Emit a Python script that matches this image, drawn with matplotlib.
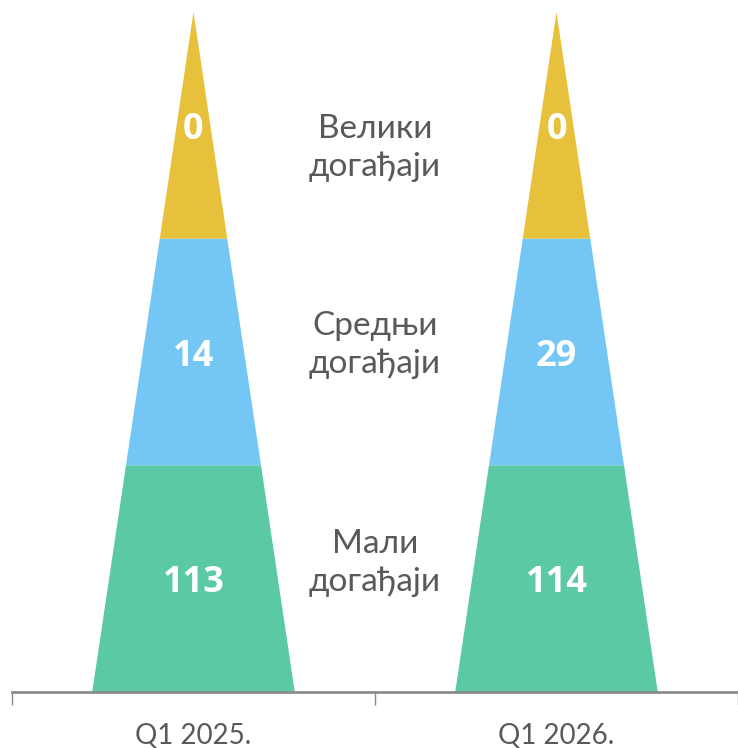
import matplotlib
matplotlib.use('Agg')
import matplotlib.pyplot as plt
from matplotlib.patches import Polygon

periods = ["Q1 2025.", "Q1 2026."]
levels = ["Мали\nдогађаји", "Средњи\nдогађаји", "Велики\nдогађаји"]  # bottom to top
counts = {
    "Q1 2025.": [113, 14, 0],
    "Q1 2026.": [114, 29, 0],
}
colors = ["#5BC9A4", "#74C7F5", "#E8C13C"]

fig = plt.figure(figsize=(7.38, 7.48), dpi=100)
ax = fig.add_axes([12 / 738, 56 / 748, 726 / 738, 680 / 748])

n = len(levels)
base_half = 0.279  # half width of cone at the base, in category units
label_y = [0.57, 1.53, 2.40]  # vertical placement of the level names

for i, p in enumerate(periods):
    cx = i + 0.5
    for j in range(n):
        w0 = base_half * (n - j) / n
        w1 = base_half * (n - j - 1) / n
        poly = Polygon([(cx - w0, j), (cx + w0, j), (cx + w1, j + 1), (cx - w1, j + 1)],
                       closed=True, facecolor=colors[j], edgecolor="none")
        ax.add_patch(poly)
        ax.text(cx, j + 0.48, str(counts[p][j]), ha="center", va="center",
                color="white", fontsize=26, fontweight="bold", family="Open Sans")

for j, lab in enumerate(levels):
    ax.text(1.0, label_y[j], lab, ha="center", va="center", color="#595959",
            fontsize=24, family="Lato", linespacing=1.3)

ax.set_xlim(0, 2)
ax.set_ylim(0, n)
for s in ["top", "right", "left"]:
    ax.spines[s].set_visible(False)
ax.spines["bottom"].set_color("#8C8C8C")
ax.spines["bottom"].set_linewidth(2)
ax.set_yticks([])
ax.set_xticks([0, 1, 2])
ax.set_xticklabels([])
ax.tick_params(axis="x", which="major", length=9, width=1, color="#8C8C8C")
ax.set_xticks([0.5, 1.5], minor=True)
ax.set_xticklabels(periods, minor=True, fontsize=20, color="#595959", family="Lato")
ax.tick_params(axis="x", which="minor", length=0, pad=22)

fig.savefig("out.png", dpi=100)
